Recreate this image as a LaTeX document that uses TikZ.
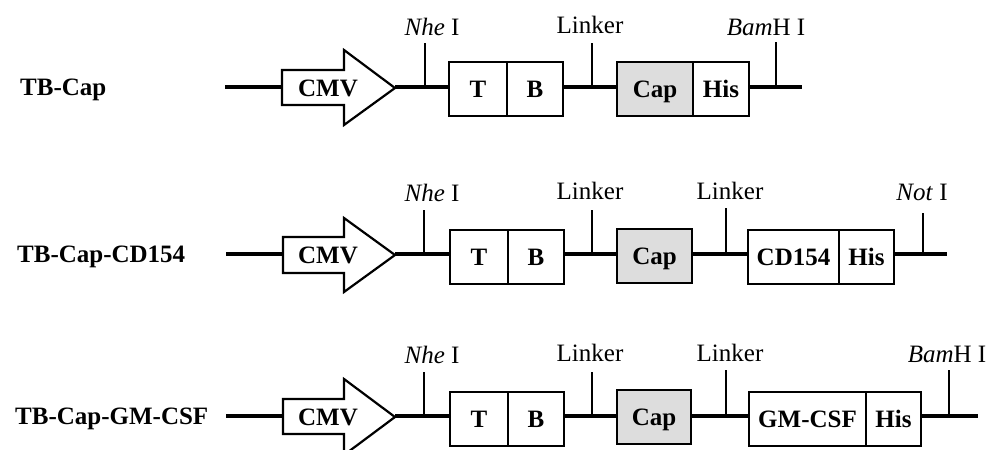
\documentclass[tikz,border=0pt]{standalone}
\usepackage{fontspec}
\setmainfont{Liberation Serif}
\definecolor{capgray}{RGB}{221,221,221}
\begin{document}
\begin{tikzpicture}[x=1pt,y=-1pt,
  dna/.style={line width=4pt},
  gene/.style={draw, line width=2.2pt, fill=white, minimum height=54pt, inner sep=0pt,
    font=\bfseries\fontsize{25}{25}\selectfont, text height=16.5pt, text depth=0pt},
  capbox/.style={gene, fill=capgray},
  sitetick/.style={line width=1.5pt},
  site/.style={font=\fontsize{25}{25}\selectfont, anchor=base, inner sep=0pt},
  rowlab/.style={font=\bfseries\fontsize{25}{25}\selectfont, anchor=base west, inner sep=0pt},
  promoter/.style={draw, line width=2.2pt, fill=white, line join=miter},
  promtext/.style={font=\bfseries\fontsize{25}{25}\selectfont, text height=16.5pt, text depth=0pt, inner sep=0pt}]
\useasboundingbox (0,0) rectangle (997,450);

% ---------------- Row 1: TB-Cap ----------------
\node[rowlab] (lab1) at (20,95) {TB-Cap};
\coordinate (s1) at (225,87);
\coordinate (pb1) at (282,87);
\coordinate (tip1) at (395,87);
\coordinate (e1) at (802,87);
\draw[dna] (s1) -- (pb1);
\draw[promoter] (282,70) -- (344,70) -- (344,50) -- (395,88) -- (344,125) -- (344,105) -- (282,105) -- cycle;
\node[promtext] (cmv1) at (328,88) {CMV};
\node[gene, minimum width=58pt] (t1) at (478,89) {T};
\node[gene, minimum width=56pt] (b1) at (535,89) {B};
\node[capbox, minimum width=76pt] (cap1) at (655,89) {Cap};
\node[gene, minimum width=56pt] (his1) at (721,89) {His};
\draw[dna] (tip1) -- (tip1 -| t1.west);
\draw[dna] (b1.east |- s1) -- (cap1.west |- s1);
\draw[dna] (his1.east |- e1) -- (e1);
\coordinate (nhe1) at (425,87); \coordinate (nhe1t) at (425,43);
\coordinate (lk1) at (592,87); \coordinate (lk1t) at (592,43);
\coordinate (bam1) at (776,87); \coordinate (bam1t) at (776,42);
\draw[sitetick] (nhe1) -- (nhe1t);
\draw[sitetick] (lk1) -- (lk1t);
\draw[sitetick] (bam1) -- (bam1t);
\node[site] (nhel1) at (432,35) {\textit{Nhe} I};
\node[site] (lkl1) at (590,33) {Linker};
\node[site] (baml1) at (766,35) {\textit{Bam}H I};

% ---------------- Row 2: TB-Cap-CD154 ----------------
\node[rowlab] (lab2) at (17,262) {TB-Cap-CD154};
\coordinate (s2) at (226,254);
\coordinate (pb2) at (283,254);
\coordinate (tip2) at (395,254);
\coordinate (e2) at (947,254);
\draw[dna] (s2) -- (pb2);
\draw[promoter] (283,237) -- (344,237) -- (344,218) -- (395,255) -- (344,292) -- (344,273) -- (283,273) -- cycle;
\node[promtext] (cmv2) at (328,255) {CMV};
\node[gene, minimum width=58pt] (t2) at (479,257) {T};
\node[gene, minimum width=56pt] (b2) at (536,257) {B};
\node[capbox, minimum width=75pt] (cap2) at (654.5,256) {Cap};
\node[gene, minimum width=91pt] (cd2) at (793.5,257) {CD154};
\node[gene, minimum width=55pt] (his2) at (866.5,257) {His};
\draw[dna] (tip2) -- (tip2 -| t2.west);
\draw[dna] (b2.east |- s2) -- (cap2.west |- s2);
\draw[dna] (cap2.east |- s2) -- (cd2.west |- s2);
\draw[dna] (his2.east |- e2) -- (e2);
\coordinate (nhe2) at (424,254); \coordinate (nhe2t) at (424,210);
\coordinate (lk2a) at (592,254); \coordinate (lk2at) at (592,210);
\coordinate (lk2b) at (726,254); \coordinate (lk2bt) at (726,208);
\coordinate (not2) at (923,254); \coordinate (not2t) at (923,213);
\draw[sitetick] (nhe2) -- (nhe2t);
\draw[sitetick] (lk2a) -- (lk2at);
\draw[sitetick] (lk2b) -- (lk2bt);
\draw[sitetick] (not2) -- (not2t);
\node[site] (nhel2) at (432,201) {\textit{Nhe} I};
\node[site] (lkl2a) at (590,199) {Linker};
\node[site] (lkl2b) at (730,199) {Linker};
\node[site] (notl2) at (922,200) {\textit{Not} I};

% ---------------- Row 3: TB-Cap-GM-CSF ----------------
\node[rowlab] (lab3) at (15,424) {TB-Cap-GM-CSF};
\coordinate (s3) at (226,416);
\coordinate (pb3) at (283,416);
\coordinate (tip3) at (395,416);
\coordinate (e3) at (978,416);
\draw[dna] (s3) -- (pb3);
\draw[promoter] (283,399) -- (344,399) -- (344,379) -- (395,417) -- (344,455) -- (344,434) -- (283,434) -- cycle;
\node[promtext] (cmv3) at (328,417) {CMV};
\node[gene, minimum width=58pt] (t3) at (479,419) {T};
\node[gene, minimum width=56pt] (b3) at (536,419) {B};
\node[capbox, minimum width=74pt] (cap3) at (654,417) {Cap};
\node[gene, minimum width=117pt] (gm3) at (807.5,419) {GM-CSF};
\node[gene, minimum width=55pt] (his3) at (893.5,419) {His};
\draw[dna] (tip3) -- (tip3 -| t3.west);
\draw[dna] (b3.east |- s3) -- (cap3.west |- s3);
\draw[dna] (cap3.east |- s3) -- (gm3.west |- s3);
\draw[dna] (his3.east |- e3) -- (e3);
\coordinate (nhe3) at (424,416); \coordinate (nhe3t) at (424,372);
\coordinate (lk3a) at (592,416); \coordinate (lk3at) at (592,372);
\coordinate (lk3b) at (726,416); \coordinate (lk3bt) at (726,370);
\coordinate (bam3) at (949,416); \coordinate (bam3t) at (949,370);
\draw[sitetick] (nhe3) -- (nhe3t);
\draw[sitetick] (lk3a) -- (lk3at);
\draw[sitetick] (lk3b) -- (lk3bt);
\draw[sitetick] (bam3) -- (bam3t);
\node[site] (nhel3) at (432,363) {\textit{Nhe} I};
\node[site] (lkl3a) at (590,361) {Linker};
\node[site] (lkl3b) at (730,361) {Linker};
\node[site] (baml3) at (947,362) {\textit{Bam}H I};
\end{tikzpicture}
\end{document}
